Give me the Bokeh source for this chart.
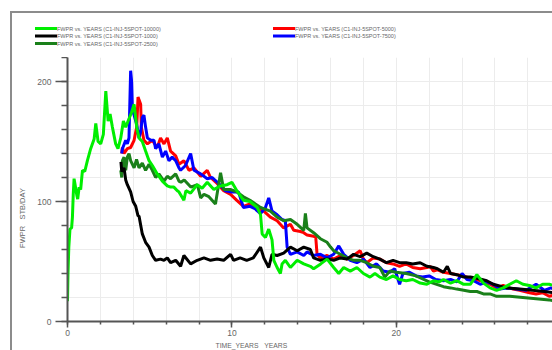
from bokeh.plotting import figure
from bokeh.layouts import column, row
from bokeh.models import Range1d, FixedTicker, Title, Div
from bokeh.embed import file_html
from bokeh.resources import INLINE

# ---- data ----
x_10000 = [0.0, 0.03, 0.08, 0.15, 0.25, 0.30, 0.35, 0.40, 0.45, 0.57, 0.62, 0.71, 0.80, 0.91, 1.05, 1.21, 1.41, 1.62,
           1.72, 1.86, 2.02, 2.18, 2.33, 2.47, 2.59, 2.73, 2.93, 3.07, 3.24, 3.40, 3.54, 3.74, 3.89, 4.05, 4.21, 4.35,
           4.55, 4.75, 4.96, 5.16, 5.46, 5.77, 6.07, 6.27, 6.47, 6.68, 6.78, 7.08, 7.2, 7.49, 7.89, 8.19, 8.50, 8.9,
           9.31, 9.71, 10.0, 10.3, 10.7, 11.1, 11.54, 11.74, 11.84, 12.04, 12.24, 12.44, 12.55, 12.75, 12.95, 13.05,
           13.25, 13.56, 13.97, 14.37, 14.77, 14.97, 15.4, 15.79, 16.19, 16.5, 16.8, 17.2, 17.6, 18.0, 18.4, 18.7,
           19.0, 19.4, 19.8, 20.2, 20.6, 21.0, 21.45, 21.86, 22.26, 22.6, 22.87, 23.3, 23.68, 24.1, 24.5, 24.9, 25.3,
           25.7, 26.1, 26.5, 26.9, 27.3, 27.7, 28.1, 28.5, 28.9, 29.3, 29.6]
y_10000 = [17, 40, 62, 77, 78, 87, 106, 119, 115, 105, 102, 112, 110, 126, 125, 134, 144, 152,
           165, 150, 148, 156, 192, 167, 173, 162, 148, 144, 153, 167, 162, 169, 174, 181, 162, 153,
           150, 142, 134, 130, 123, 117, 113, 112, 112, 109, 108, 101, 109, 107, 114, 111, 116, 110,
           113, 114, 116, 109, 101, 100, 95, 89, 73, 70, 77, 68, 51, 45, 40, 48,
           51, 45, 51, 48, 46, 44, 48, 52, 45, 40, 45, 42, 45, 40, 37, 40,
           37, 35, 38, 35, 34, 35, 32, 31, 34, 33, 35, 32, 34, 31, 31, 39, 32,
           28, 26, 28, 31, 34, 31, 30, 28, 31, 31, 30]

x_1000 = [3.25, 3.30, 3.44, 3.54, 3.64, 3.84, 3.99, 4.15, 4.29, 4.35, 4.55, 4.75, 4.96, 5.16, 5.36, 5.66, 5.87, 6.07,
          6.27, 6.58, 6.88, 7.08, 7.49, 7.89, 8.3, 8.7, 9.1, 9.5, 9.92, 10.1, 10.5, 10.9, 11.3, 11.74, 11.94, 12.24,
          12.44, 12.75, 13.15, 13.56, 13.97, 14.37, 14.77, 14.97, 15.38, 15.79, 16.19, 16.6, 17.0, 17.4, 17.8, 18.2,
          18.6, 19.0, 19.4, 19.8, 20.2, 20.6, 21.0, 21.45, 21.86, 22.26, 22.5, 22.87, 23.1, 23.3, 23.68, 24.1, 24.5,
          24.9, 25.5, 25.9, 26.7, 27.5, 28.3, 29.0, 29.6]
y_1000 = [133, 125, 128, 118, 114, 108, 100, 96, 88, 88, 73, 66, 62, 55, 51, 52, 51, 53,
          49, 51, 46, 55, 48, 51, 53, 51, 52, 51, 56, 51, 53, 51, 53, 62, 53, 45,
          56, 55, 57, 62, 59, 62, 60, 53, 51, 52, 51, 53, 52, 56, 54, 57,
          54, 52, 49, 51, 49, 49, 48, 49, 46, 45, 44, 41, 46, 40, 39, 37, 37,
          36, 34, 31, 28, 27, 26, 25, 24]

x_2500 = [3.24, 3.30, 3.34, 3.44, 3.54, 3.64, 3.74, 3.84, 4.05, 4.2, 4.35, 4.55, 4.75, 4.96, 5.16, 5.36, 5.56, 5.87,
          6.07, 6.27, 6.58, 6.78, 6.9, 7.1, 7.5, 7.9, 8.1, 8.3, 8.6, 9.0, 9.31, 9.5, 9.9, 10.3, 10.7, 11.1, 11.74,
          12.34, 12.75, 13.15, 13.56, 13.97, 14.37, 14.47, 14.57, 14.97, 15.38, 15.79, 16.0, 16.19, 16.6, 17.0, 17.4,
          17.8, 18.2, 18.6, 19.0, 19.3, 19.6, 20.0, 20.6, 21.2, 22.0, 22.87, 23.3, 23.68, 24.1, 24.5, 24.9, 25.3,
          25.7, 26.1, 26.9, 27.7, 28.5, 29.3, 29.6]
y_2500 = [126, 120, 134, 137, 126, 137, 140, 134, 128, 135, 128, 132, 126, 131, 126, 120, 123, 117,
          121, 119, 123, 117, 116, 118, 112, 114, 103, 106, 104, 98, 124, 110, 110, 108, 104, 101, 95,
          92, 87, 84, 85, 81, 76, 90, 78, 74, 69, 66, 62, 59, 56, 53, 51,
          51, 49, 46, 45, 37, 42, 41, 40, 38, 33, 29, 28, 27, 26, 25, 25, 23,
          23, 21, 21, 20, 19, 18, 17]

x_5000 = [3.30, 3.34, 3.44, 3.64, 3.84, 4.05, 4.21, 4.29, 4.45, 4.49, 4.65, 4.86, 5.16, 5.46, 5.66, 5.87, 6.07, 6.27,
          6.58, 6.78, 7.08, 7.39, 7.69, 8.1, 8.5, 8.7, 9.1, 9.5, 9.92, 10.3, 10.7, 11.1, 11.54, 11.94, 12.34, 12.75,
          13.15, 13.56, 13.76, 14.17, 14.37, 14.57, 14.97, 15.1, 15.18, 15.38, 15.79, 16.19, 16.6, 17.0, 17.4, 17.8,
          18.0, 18.2, 18.6, 19.0, 19.4, 19.8, 20.2, 20.6, 21.0, 21.45, 21.86, 22.06, 22.26, 22.5, 22.87, 23.3, 23.68,
          24.1, 24.5, 24.9, 25.3, 25.7, 26.1, 26.5, 27.1, 27.5, 28.1, 28.5, 28.9, 29.3, 29.6]
y_5000 = [140, 145, 140, 144, 145, 151, 162, 187, 181, 162, 151, 148, 151, 145, 153, 148, 153, 142,
          138, 131, 134, 126, 128, 121, 126, 120, 115, 109, 106, 101, 96, 98, 95, 92, 87, 84,
          78, 81, 76, 75, 74, 72, 71, 70, 56, 53, 55, 52, 55, 52, 55, 59,
          52, 49, 53, 52, 49, 48, 46, 48, 45, 44, 45, 46, 42, 43, 41, 40, 39,
          38, 36, 35, 33, 31, 28, 30, 27, 26, 24, 23, 24, 21, 22]

x_7500 = [3.30, 3.34, 3.54, 3.64, 3.74, 3.84, 3.9, 3.95, 4.05, 4.21, 4.35, 4.45, 4.55, 4.65, 4.75, 4.86, 5.06, 5.26,
          5.36, 5.56, 5.77, 5.97, 6.17, 6.37, 6.58, 6.78, 6.88, 7.18, 7.49, 7.69, 8.1, 8.5, 8.8, 9.2, 9.6, 10.0, 10.4,
          10.7, 11.1, 11.4, 11.74, 12.04, 12.24, 12.44, 12.75, 13.05, 13.25, 13.36, 13.56, 13.97, 14.37, 14.57, 14.97,
          15.38, 15.79, 16.19, 16.5, 16.8, 17.2, 17.6, 18.0, 18.4, 18.8, 19.2, 19.6, 19.9, 20.2, 20.4, 20.8, 21.2,
          21.6, 22.0, 22.4, 22.87, 23.3, 23.68, 24.0, 24.3, 24.7, 25.1, 25.5, 25.9, 26.3, 26.7, 27.3, 27.9, 28.5,
          29.0, 29.4, 29.6]
y_7500 = [140, 144, 151, 148, 153, 209, 200, 176, 172, 164, 153, 158, 170, 172, 162, 153, 151, 151,
          144, 148, 137, 142, 134, 137, 134, 128, 126, 130, 140, 126, 123, 119, 120, 115, 109, 108, 108,
          95, 96, 94, 90, 95, 103, 92, 89, 85, 84, 62, 56, 58, 55, 58, 55,
          56, 53, 56, 63, 56, 51, 49, 52, 45, 48, 42, 41, 44, 31, 40, 41, 38,
          37, 38, 35, 34, 35, 33, 40, 35, 34, 31, 33, 31, 27, 28, 27, 26, 31,
          26, 28, 27]

labels = ["FWPR vs. YEARS (C1-INJ-5SPOT-10000)", "FWPR vs. YEARS (C1-INJ-5SPOT-1000)",
          "FWPR vs. YEARS (C1-INJ-5SPOT-2500)", "FWPR vs. YEARS (C1-INJ-5SPOT-5000)",
          "FWPR vs. YEARS (C1-INJ-5SPOT-7500)"]
colors = ["#00ee00", "#000000", "#1a801a", "#ff0000", "#0000ff"]
x_major = [0, 10, 20, 30]
x_minor = list(range(0, 32, 2))
y_major = [0, 100, 200]
y_minor = list(range(0, 240, 20))
x_title = "TIME_YEARS\u00a0\u00a0\u00a0YEARS"
y_title = "FWPR\u00a0\u00a0\u00a0STB/DAY"

FONT = "Liberation Sans"
GRAY = "#555555"

# ---- main plot ----
p = figure(width=520, height=293, output_backend="svg", toolbar_location=None,
           x_range=Range1d(0, 29.5), y_range=Range1d(0, 220),
           min_border_left=35, min_border_right=0, min_border_top=0, min_border_bottom=29)
p.outline_line_color = None
p.background_fill_color = "white"
p.border_fill_color = "white"

p.line(x_5000, y_5000, color=colors[3], line_width=3)
p.line(x_7500, y_7500, color=colors[4], line_width=3)
p.line(x_2500, y_2500, color=colors[2], line_width=3)
p.line(x_1000, y_1000, color=colors[1], line_width=3)
p.line(x_10000, y_10000, color=colors[0], line_width=3)

p.xaxis.ticker = FixedTicker(ticks=x_major, minor_ticks=x_minor)
p.yaxis.ticker = FixedTicker(ticks=y_major, minor_ticks=y_minor)
p.xgrid.ticker = FixedTicker(ticks=x_minor)
p.ygrid.ticker = FixedTicker(ticks=y_minor)
for g in (p.xgrid, p.ygrid):
    g.grid_line_color = "#ececec"
    g.grid_line_width = 1
for ax in (p.xaxis, p.yaxis):
    ax.axis_line_color = GRAY
    ax.axis_line_width = 2
    ax.major_tick_line_color = GRAY
    ax.minor_tick_line_color = GRAY
    ax.major_tick_line_width = 1.5
    ax.minor_tick_line_width = 1.5
    ax.major_tick_in = 0
    ax.minor_tick_in = 0
    ax.major_label_text_font = FONT
    ax.major_label_text_font_size = "8.5px"
    ax.major_label_text_color = "#666666"
p.xaxis.major_tick_out = 6
p.xaxis.minor_tick_out = 3
p.xaxis.major_label_standoff = 2
p.yaxis.major_tick_out = 12
p.yaxis.minor_tick_out = 6
p.yaxis.major_label_standoff = 4

xt = Title(text=x_title, align="left", offset=148, text_font=FONT,
           text_font_size="6.8px", text_font_style="normal", text_color="#666666", standoff=2)
p.add_layout(xt, "below")

# ---- y-axis title strip at the left of the plot ----
ylab_svg = ('<svg xmlns="http://www.w3.org/2000/svg" width="20" height="293" style="display:block">'
            f'<text transform="translate(10,161) rotate(-90)" text-anchor="middle" dominant-baseline="central" '
            f'font-family="{FONT}" font-size="7.5" fill="#666666">{y_title}</text></svg>')
ylab_div = Div(text=ylab_svg, width=20, height=293, margin=0)

# ---- legend strip above the plot (two columns: 3 + 2 entries) ----
parts = ['<svg xmlns="http://www.w3.org/2000/svg" width="540" height="44" style="display:block">']
for i, (lab, c) in enumerate(zip(labels, colors)):
    col, rw = divmod(i, 3)
    x0 = 23 + col * 238
    yy = 15.5 + rw * 7.5
    parts.append(f'<line x1="{x0}" y1="{yy}" x2="{x0 + 22}" y2="{yy}" stroke="{c}" stroke-width="3"/>')
    parts.append(f'<text x="{x0 + 22}" y="{yy}" dominant-baseline="central" font-family="{FONT}" '
                 f'font-size="5.5" fill="#666666">{lab}</text>')
parts.append('</svg>')
legend_div = Div(text="".join(parts), width=540, height=44, margin=0)

layout = column(legend_div, row(ylab_div, p, spacing=0), spacing=0)
layout.margin = (11, 0, 0, 10)
layout.styles = {"border-top": "2px solid #8c8c8c", "border-left": "2px solid #8c8c8c"}

open("out.html", "w").write(file_html(layout, INLINE))
